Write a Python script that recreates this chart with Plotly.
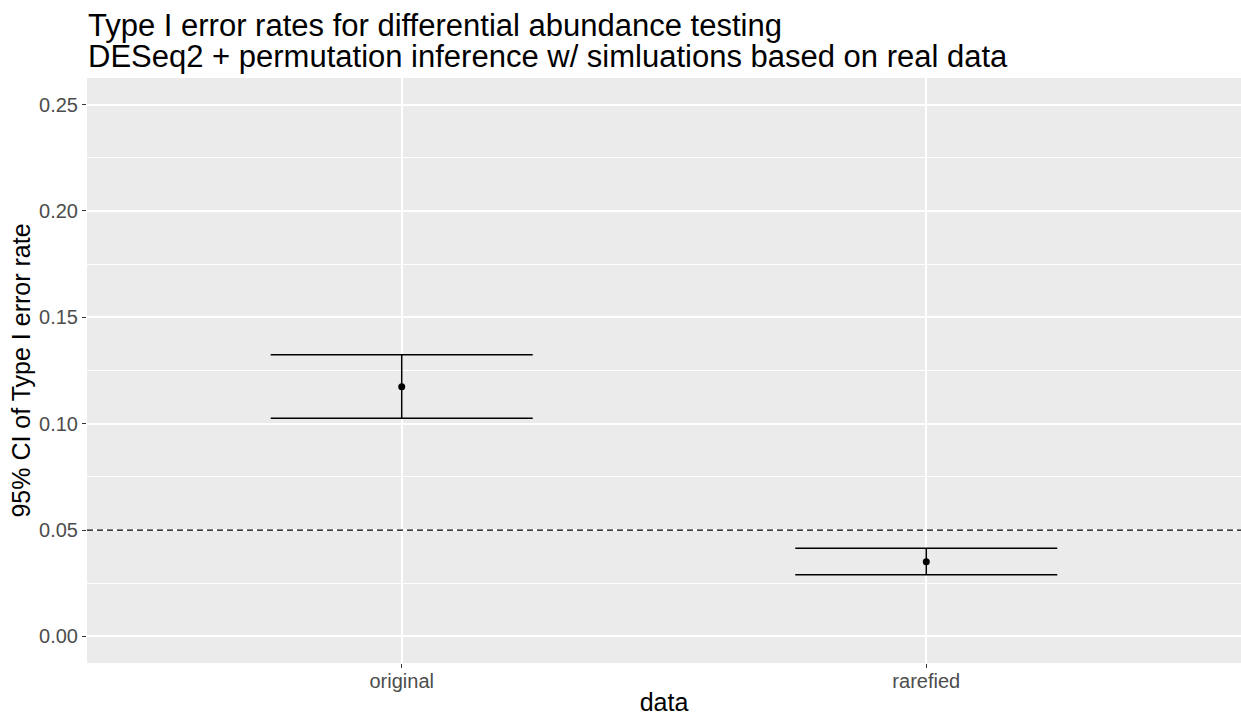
import plotly.graph_objects as go

categories = ["original", "rarefied"]
estimate = [0.1174, 0.0351]
ci_lower = [0.1026, 0.0290]
ci_upper = [0.1324, 0.0414]
alpha_level = 0.05
y_ticks = [0.00, 0.05, 0.10, 0.15, 0.20, 0.25]
title_lines = ["Type I error rates for differential abundance testing",
               "DESeq2 + permutation inference w/ simluations based on real data"]

xpos = list(range(1, len(categories) + 1))
err_plus = [u - e for u, e in zip(ci_upper, estimate)]
err_minus = [e - l for e, l in zip(estimate, ci_lower)]

fig = go.Figure()
fig.add_trace(go.Scatter(
    x=xpos, y=estimate, mode="markers",
    marker=dict(color="black", size=7),
    error_y=dict(type="data", symmetric=False, array=err_plus, arrayminus=err_minus,
                 color="black", thickness=1.5, width=131),
    showlegend=False,
))
fig.add_shape(type="line", xref="paper", x0=0, x1=1, yref="y", y0=alpha_level, y1=alpha_level,
              line=dict(color="black", width=1.3, dash="6px,4px"))

font = "Liberation Sans, Arial, Helvetica, sans-serif"
plot_h = 717 - 78 - 54
for i, line in enumerate(title_lines):
    fig.add_annotation(text=line, xref="paper", x=0, xanchor="left",
                       yref="paper", y=1 + (71 - 31 * i) / plot_h, yanchor="top",
                       showarrow=False, borderpad=0,
                       font=dict(size=31, family=font, color="black"))

fig.update_layout(
    width=1241, height=717,
    margin=dict(l=87, r=0, t=78, b=54),
    paper_bgcolor="white", plot_bgcolor="#EBEBEB",
    font=dict(family=font, color="black"),
    xaxis=dict(range=[0.4, 2.6], tickvals=xpos, ticktext=categories, automargin=False,
               showgrid=True, gridcolor="white", gridwidth=1.5, zeroline=False,
               ticks="outside", ticklen=4, tickcolor="#333333", tickwidth=1,
               ticklabelstandoff=-4,
               tickfont=dict(size=20, color="#4D4D4D"),
               title=dict(text="data", font=dict(size=25, color="black"), standoff=2)),
    yaxis=dict(range=[-0.0125, 0.2625], tickvals=y_ticks, ticktext=[f"{v:.2f}" for v in y_ticks],
               automargin=False,
               showgrid=True, gridcolor="white", gridwidth=1.5, zeroline=False,
               minor=dict(dtick=0.025, tick0=0.025, showgrid=True, gridcolor="white", gridwidth=0.7),
               ticks="outside", ticklen=4, tickcolor="#333333", tickwidth=1,
               tickfont=dict(size=20, color="#4D4D4D"),
               title=dict(text="95% CI of Type I error rate", font=dict(size=25, color="black"), standoff=1)),
)
fig.write_html("out.html")
